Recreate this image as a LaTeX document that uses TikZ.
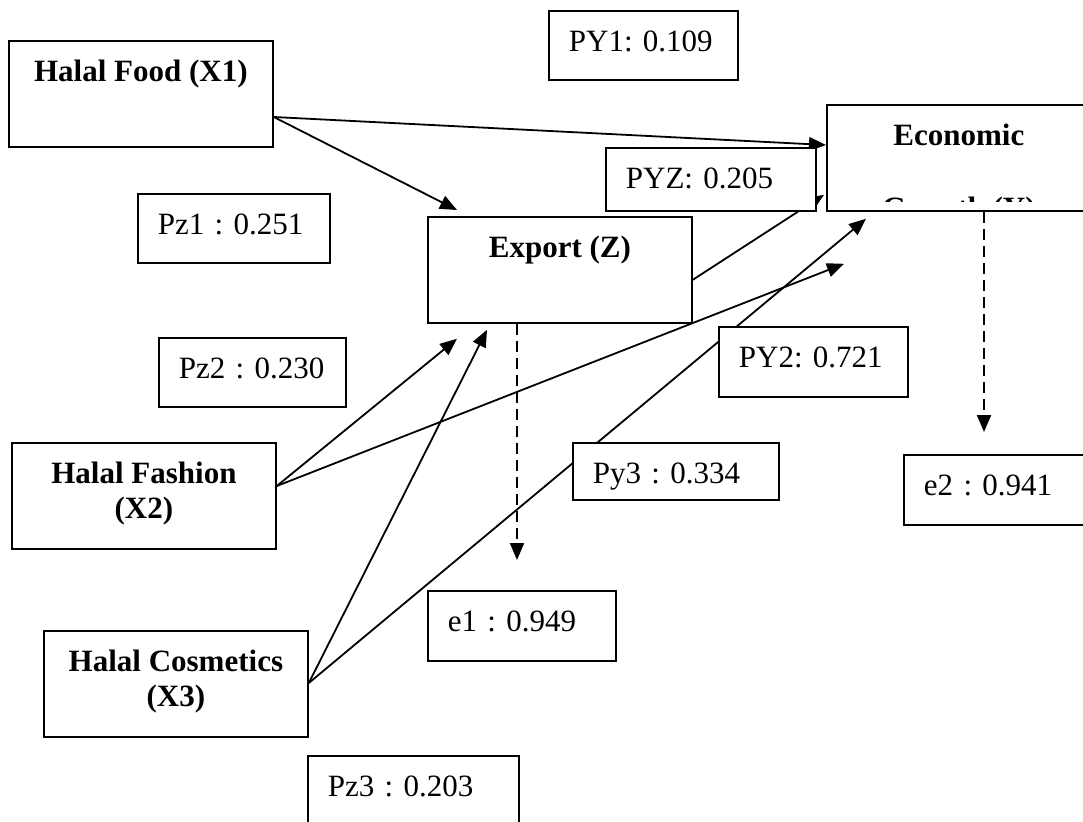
\documentclass[tikz,border=0pt]{standalone}
\usepackage{fontspec}
\setmainfont{Liberation Serif}
\usepackage{tikz}
\usetikzlibrary{arrows.meta,calc}
\tikzset{
    varbox/.style={draw=black, line width=1.8pt, fill=white, anchor=north west, inner sep=0pt,
        minimum width=264pt, text height=41pt, text depth=65pt, font=\fontsize{31}{35}\selectfont\bfseries},
    coefbox/.style={draw=black, line width=1.8pt, fill=white, anchor=north west, inner xsep=20pt,
        inner ysep=0pt, text height=41pt, align=left, font=\fontsize{31}{35}\selectfont\frenchspacing},
    pathline/.style={-{Triangle[length=17pt,width=14pt]}, line width=1.8pt},
    errline/.style={pathline, line width=2pt, dash pattern=on 11pt off 6pt}
}
\begin{document}
\begin{tikzpicture}[x=1pt, y=-1pt]
    \useasboundingbox (0,0) rectangle (1083,821);

    % --- VARIABLES ---
    \node[varbox] (x1) at (8,40) {Halal Food (X1)};
    \node[varbox] (ex) at (427,216) {Export (Z)};
    % second line of Y is cut off by the box
    \node[varbox, path picture={
            \clip ([yshift=9pt]path picture bounding box.south west) rectangle (path picture bounding box.north east);
            \node[anchor=base, draw=none, fill=none, inner sep=0pt, text height=21pt, text depth=0pt,
                font=\fontsize{31}{35}\selectfont\bfseries] (growth)
                at ([yshift=-114pt]path picture bounding box.north) {Growth (Y)};
        }] (eg) at (826,104) {Economic};
    \node[varbox] (x2) at (11,442) {\parbox[t]{264pt}{\centering Halal Fashion\\(X2)}};
    \node[varbox] (x3) at (43,630) {\parbox[t]{264pt}{\centering Halal Cosmetics\\(X3)}};

    % --- PATHS ---
    \draw[pathline] ([yshift=-77pt]x1.north east) -- ([xshift=30pt,yshift=6pt]ex.north west);
    \draw[pathline] ([yshift=-77pt]x1.north east) -- ([yshift=-41pt]eg.north west);
    \draw[pathline] ([yshift=-44pt]x2.north east) -- ([xshift=30pt,yshift=-15pt]ex.south west);
    \draw[pathline] ([yshift=-44pt]x2.north east) -- ([xshift=18pt,yshift=-52pt]eg.south west);
    \draw[pathline] ([yshift=-53pt]x3.north east) -- ([xshift=60pt,yshift=-6pt]ex.south west);
    \draw[pathline] ([yshift=-53pt]x3.north east) -- ([xshift=40pt,yshift=-7pt]eg.south west);
    \draw[pathline] ([yshift=44pt]ex.south east) -- ([xshift=-2pt,yshift=17pt]eg.south west);

    % --- COEFFICIENTS ---
    \node[coefbox, text width=149pt, text depth=28pt] (py1) at (548,10) {PY1: 0.109};
    \node[coefbox, text width=170pt, text depth=22pt] (pyz) at (605,147) {PYZ: 0.205};
    \node[coefbox, text width=152pt, text depth=28pt] (pz1) at (137,193) {Pz1 : 0.251};
    \node[coefbox, text width=147pt, text depth=28pt] (pz2) at (158,337) {Pz2 : 0.230};
    \node[coefbox, text width=149pt, text depth=29pt] (py2) at (718,326) {PY2: 0.721};
    \node[coefbox, text width=166pt, text depth=16pt] (py3) at (572,442) {Py3 : 0.334};
    \node[coefbox, text width=148pt, text depth=29pt] (e1) at (427,590) {e1 : 0.949};
    \node[coefbox, text width=150pt, text depth=29pt] (e2) at (903,454) {e2 : 0.941};
    \node[coefbox, text width=171pt, text depth=29pt] (pz3) at (307,755) {Pz3 : 0.203};

    % --- ERRORS ---
    \draw[errline] ([xshift=90pt]ex.south west) -- ([xshift=90pt,yshift=30pt]e1.north west);
    \draw[errline] ([xshift=158pt]eg.south west) -- ([xshift=81pt,yshift=22pt]e2.north west);
\end{tikzpicture}
\end{document}
